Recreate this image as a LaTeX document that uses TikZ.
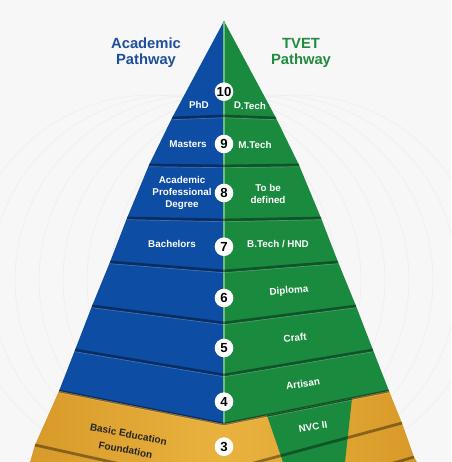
\documentclass[tikz,border=0pt]{standalone}
\usepackage{fontspec}
\setmainfont{Liberation Sans}
\usetikzlibrary{positioning}
\definecolor{acadblue}{HTML}{0E4DA4}
\definecolor{tvetgreen}{HTML}{1A8A3F}
\definecolor{headblue}{HTML}{1F4E9A}
\definecolor{headgreen}{HTML}{218B3E}
\definecolor{golddark}{HTML}{D89A2A}
\definecolor{goldlight}{HTML}{F6D46A}
\definecolor{goldmid}{HTML}{E9B23E}
\definecolor{divline}{HTML}{6CC07A}
\definecolor{bgpaper}{HTML}{F7F7F7}
\definecolor{arcgray}{HTML}{EDEDED}

\begin{document}
\begin{tikzpicture}[
  x=0.02cm,y=-0.02cm,
  lvl/.style={circle,fill=white,inner sep=0pt,minimum size=10.6pt,
              font=\fontsize{7.5}{8}\selectfont\bfseries},
  lbl/.style={text=white,align=center,inner sep=0pt,
              font=\fontsize{5.6}{6.6}\selectfont\bfseries},
  head/.style={align=center,inner sep=0pt,font=\fontsize{8.4}{9.1}\selectfont\bfseries},
  seam/.style={draw=black,opacity=0.38,line width=1.6pt,line join=round},
  glint/.style={draw=white,opacity=0.22,line width=0.4pt}
]
  \useasboundingbox (0,0) rectangle (451,462);
  \clip (0,0) rectangle (451,462);
  \fill[bgpaper] (0,0) rectangle (451,462);
  % faint rings behind the pyramid
  \foreach \d in {-72,-48,...,72}
    \draw[arcgray,line width=0.3pt] (224+\d,280) circle (185);

  % two halves of the pyramid
  \fill[acadblue] (224,21) -- (172,118) -- (149,165) -- (127,218) -- (110,262)
    -- (92,306) -- (75,350) -- (59,391) -- (224,424) -- cycle;
  \fill[tvetgreen] (224,21) -- (276,118) -- (299,165) -- (321,218) -- (338,262)
    -- (356,306) -- (373,350) -- (389,391) -- (224,424) -- cycle;
  % gold foundation
  \shade[left color=golddark,middle color=goldlight,right color=goldmid]
    (59,391) -- (35,445) -- (30,462) -- (224,462) -- (224,424) -- cycle;
  \shade[left color=goldmid,middle color=goldlight,right color=golddark]
    (224,424) -- (389,391) -- (402,423) -- (414,457) -- (417,462) -- (224,462) -- cycle;
  \fill[tvetgreen] (267,415.4) -- (352,398.4) -- (345,462) -- (283,462) -- cycle;
  \draw[divline,line width=0.6pt] (224,21) -- (224,424);

  % seams between the levels
  \foreach \ye/\yc/\w in {118/116/52,165/166/75,218/220/97,262/271/114,
                          306/323/132,350/375/149,391/424/165}{
    \draw[seam] (224-\w,\ye) -- (224,\yc) -- (224+\w,\ye);
    \draw[glint] (224-\w,\ye+1.7) -- (224,\yc+1.7) -- (224+\w,\ye+1.7);
  }
  \draw[seam] (35,445) -- (224,487);
  \draw[seam] (224,471) -- (402,423);
  \draw[seam] (224,513) -- (414,457);

  % headings
  \node[head,text=headblue] (acad) at (146,52.5) {Academic\\Pathway};
  \node[head,text=headgreen] (tvet) at (301,52.5) {TVET\\Pathway};

  % level numbers
  \foreach \n/\y in {10/91.7,9/144,8/193,7/246.7,6/298,5/348,4/401.7,3/446.7}
    \node[lvl] (lvl\n) at (224,\y) {\n};

  % academic side
  \node[lbl] (phd) at (199,105) {PhD};
  \node[lbl] (masters) at (188,144) {Masters};
  \node[lbl] (apd) at (182,193) {Academic\\Professional\\Degree};
  \node[lbl] (bach) at (172,244) {Bachelors};
  \node[lbl,text=black!85,rotate=-11,font=\fontsize{5.7}{9}\selectfont\bfseries]
    (basic) at (127,442) {Basic Education\\Foundation};

  % tvet side
  \node[lbl,rotate=-2] (dtech) at (250,106) {D.Tech};
  \node[lbl] (mtech) at (255,145) {M.Tech};
  \node[lbl] (tbd) at (268,194) {To be\\defined};
  \node[lbl] (btech) at (278,244) {B.Tech / HND};
  \node[lbl,rotate=5] (dipl) at (289,291) {Diploma};
  \node[lbl,rotate=6] (craft) at (295,338) {Craft};
  \node[lbl,rotate=8] (artisan) at (303,384) {Artisan};
  \node[lbl,rotate=10] (nvc) at (313,427) {NVC II};
\end{tikzpicture}
\end{document}
